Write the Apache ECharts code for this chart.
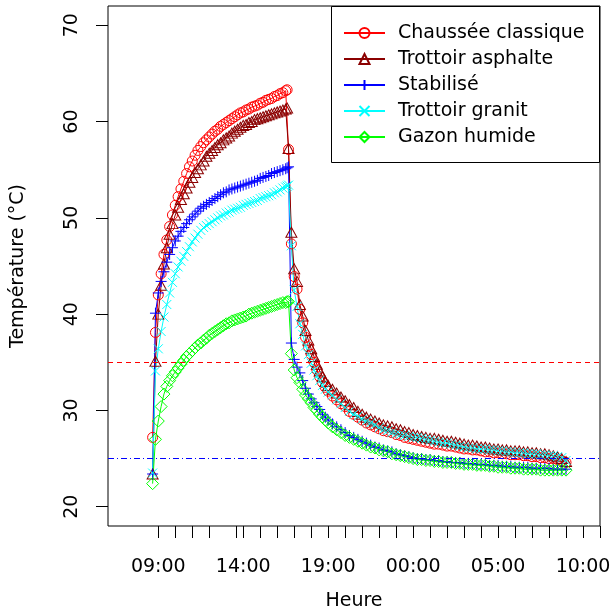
<!DOCTYPE html>
<html>
<head>
<meta charset="utf-8">
<title>Température des revêtements</title>
<script src="https://cdn.jsdelivr.net/npm/echarts@6/dist/echarts.min.js"></script>
<style>
    html, body { margin: 0; padding: 0; background: #fff; }
    #chart { width: 616px; height: 616px; }
</style>
</head>
<body>
<div id="chart"></div>
<script>
// heures de mesure (le jour suivant commence après 23:45)
var heures = [
    "08:40", "08:50",
    "09:00", "09:10", "09:20", "09:30", "09:40", "09:50",
    "10:00", "10:10", "10:20", "10:30", "10:40", "10:50",
    "11:00", "11:10", "11:20", "11:30", "11:40", "11:50",
    "12:00", "12:10", "12:20", "12:30", "12:40", "12:50",
    "13:00", "13:10", "13:20", "13:30", "13:40", "13:50",
    "14:00", "14:10", "14:20", "14:30", "14:40", "14:50",
    "15:00", "15:10", "15:20", "15:30", "15:40", "15:50",
    "16:00", "16:10", "16:20", "16:30", "16:35", "16:40",
    "16:50", "17:00", "17:10", "17:20", "17:30", "17:40", "17:50",
    "18:00", "18:10", "18:20", "18:30", "18:40", "18:50", "19:00",
    "19:15", "19:30", "19:45", "20:00",
    "20:15", "20:30", "20:45", "21:00",
    "21:15", "21:30", "21:45", "22:00",
    "22:15", "22:30", "22:45", "23:00",
    "23:15", "23:30", "23:45", "00:00",
    "00:15", "00:30", "00:45", "01:00",
    "01:15", "01:30", "01:45", "02:00",
    "02:15", "02:30", "02:45", "03:00",
    "03:15", "03:30", "03:45", "04:00",
    "04:15", "04:30", "04:45", "05:00",
    "05:15", "05:30", "05:45", "06:00",
    "06:15", "06:30", "06:45", "07:00",
    "07:15", "07:30", "07:45", "08:00",
    "08:15", "08:30", "08:45", "09:00"
];

var chaussee = [
    27.2, 38.1,
    42.0, 44.2, 46.2, 47.7, 49.1, 50.3,
    51.3, 52.2, 53.0, 53.8, 54.6, 55.3,
    55.9, 56.5, 57.0, 57.4, 57.8, 58.1,
    58.4, 58.7, 59.0, 59.2, 59.5, 59.7,
    59.9, 60.1, 60.3, 60.5, 60.7, 60.9,
    61.0, 61.2, 61.3, 61.5, 61.6, 61.7,
    61.9, 62.0, 62.2, 62.3, 62.4, 62.6,
    62.7, 62.9, 63.0, 63.2, 63.3, 57.1,
    47.3, 43.9, 42.6, 40.5, 39.1, 37.6, 36.6,
    35.8, 35.0, 34.2, 33.5, 32.9, 32.4, 32.0,
    31.5, 31.1, 30.7, 30.4,
    29.9, 29.6, 29.3, 29.0,
    28.7, 28.5, 28.3, 28.1,
    27.9, 27.8, 27.7, 27.5,
    27.4, 27.2, 27.1, 27.0,
    26.9, 26.8, 26.7, 26.6,
    26.5, 26.5, 26.4, 26.3,
    26.3, 26.2, 26.1, 26.0,
    26.0, 25.9, 25.9, 25.8,
    25.7, 25.7, 25.6, 25.6,
    25.5, 25.5, 25.4, 25.4,
    25.4, 25.3, 25.3, 25.2,
    25.2, 25.1, 25.1, 25.0,
    25.0, 24.9, 24.8, 24.6
];

var asphalte = [
    23.4, 35.1,
    40.0, 43.0, 45.2, 46.9, 48.3, 49.4,
    50.3, 51.1, 51.9, 52.5, 53.1, 53.7,
    54.2, 54.7, 55.1, 55.5, 55.9, 56.4,
    56.7, 57.0, 57.3, 57.6, 57.8, 58.1,
    58.3, 58.5, 58.8, 59.0, 59.2, 59.4,
    59.6, 59.7, 59.9, 60.0, 60.2, 60.3,
    60.4, 60.5, 60.6, 60.7, 60.8, 60.9,
    61.0, 61.1, 61.2, 61.3, 61.4, 57.2,
    48.5, 44.7, 43.4, 41.0, 39.8, 38.3, 37.3,
    36.4, 35.6, 34.8, 34.1, 33.5, 33.0, 32.6,
    32.2, 31.8, 31.4, 31.0,
    30.6, 30.3, 29.9, 29.6,
    29.3, 29.1, 28.9, 28.7,
    28.5, 28.4, 28.3, 28.1,
    28.0, 27.8, 27.7, 27.5,
    27.4, 27.3, 27.2, 27.1,
    27.1, 27.0, 26.9, 26.8,
    26.8, 26.7, 26.6, 26.5,
    26.4, 26.4, 26.3, 26.2,
    26.2, 26.1, 26.0, 26.0,
    25.9, 25.9, 25.8, 25.8,
    25.8, 25.7, 25.7, 25.6,
    25.6, 25.5, 25.5, 25.4,
    25.3, 25.2, 25.0, 24.7
];

var stabilise = [
    23.4, 40.1,
    42.2, 43.4, 44.4, 45.4, 46.2, 46.9,
    47.6, 48.1, 48.6, 49.0, 49.4, 49.8,
    50.1, 50.4, 50.7, 51.0, 51.2, 51.4,
    51.6, 51.8, 52.0, 52.2, 52.4, 52.6,
    52.7, 52.9, 53.0, 53.1, 53.2, 53.3,
    53.4, 53.5, 53.6, 53.7, 53.8, 53.9,
    54.1, 54.2, 54.3, 54.4, 54.6, 54.7,
    54.8, 54.9, 55.0, 55.1, 55.2, 55.3,
    37.0, 35.3, 34.5, 33.9, 33.1, 32.3, 31.7,
    31.2, 30.8, 30.4, 30.1, 29.6, 29.3, 29.0,
    28.6, 28.3, 28.0, 27.7,
    27.4, 27.2, 27.0, 26.8,
    26.6, 26.4, 26.2, 26.1,
    25.9, 25.8, 25.7, 25.5,
    25.4, 25.3, 25.2, 25.1,
    25.0, 25.0, 24.9, 24.9,
    24.8, 24.8, 24.7, 24.7,
    24.6, 24.6, 24.6, 24.5,
    24.5, 24.5, 24.4, 24.4,
    24.4, 24.3, 24.3, 24.3,
    24.2, 24.2, 24.2, 24.1,
    24.1, 24.1, 24.1, 24.0,
    24.0, 24.0, 24.0, 24.0,
    23.9, 23.9, 23.9, 23.9
];

var granit = [
    23.5, 34.1,
    36.4, 38.2, 39.7, 41.0, 42.2, 43.3,
    44.2, 44.9, 45.5, 46.0, 46.5, 47.0,
    47.5, 47.9, 48.3, 48.7, 49.0, 49.2,
    49.4, 49.6, 49.8, 50.0, 50.2, 50.3,
    50.5, 50.6, 50.8, 50.9, 51.0, 51.1,
    51.3, 51.4, 51.5, 51.6, 51.7, 51.8,
    52.0, 52.1, 52.2, 52.3, 52.4, 52.6,
    52.7, 52.9, 53.1, 53.2, 53.3, 53.4,
    47.1, 42.5, 40.8, 39.0, 37.9, 36.7, 35.8,
    34.9, 34.2, 33.6, 33.1, 32.6, 32.2, 31.9,
    31.6, 31.1, 30.7, 30.3,
    29.9, 29.6, 29.4, 29.1,
    28.9, 28.7, 28.5, 28.2,
    28.0, 27.9, 27.7, 27.6,
    27.5, 27.4, 27.3, 27.2,
    27.2, 27.1, 27.0, 26.9,
    26.8, 26.7, 26.6, 26.6,
    26.5, 26.4, 26.3, 26.2,
    26.1, 26.1, 26.0, 26.0,
    26.0, 25.9, 25.9, 25.8,
    25.8, 25.7, 25.7, 25.6,
    25.6, 25.6, 25.5, 25.5,
    25.5, 25.4, 25.4, 25.3,
    25.3, 25.2, 25.1, 24.8
];

var gazon = [
    22.4, 27.0,
    28.9, 30.4, 31.7, 32.5, 33.1, 33.6,
    34.0, 34.4, 34.8, 35.2, 35.6, 35.9,
    36.2, 36.5, 36.8, 37.0, 37.3, 37.5,
    37.8, 38.0, 38.2, 38.4, 38.6, 38.8,
    39.0, 39.1, 39.3, 39.4, 39.5, 39.6,
    39.7, 39.8, 40.0, 40.1, 40.2, 40.3,
    40.4, 40.5, 40.6, 40.7, 40.8, 40.9,
    41.0, 41.1, 41.2, 41.2, 41.3, 41.3,
    35.9, 34.2, 33.4, 32.9, 32.2, 31.6, 31.2,
    30.8, 30.3, 30.0, 29.6, 29.3, 29.0, 28.7,
    28.3, 28.0, 27.7, 27.4,
    27.2, 27.0, 26.8, 26.6,
    26.4, 26.2, 26.1, 25.9,
    25.8, 25.7, 25.5, 25.4,
    25.3, 25.2, 25.1, 25.0,
    24.9, 24.9, 24.8, 24.8,
    24.7, 24.7, 24.6, 24.6,
    24.6, 24.5, 24.5, 24.4,
    24.4, 24.4, 24.3, 24.3,
    24.3, 24.2, 24.2, 24.1,
    24.1, 24.1, 24.0, 24.0,
    24.0, 23.9, 23.9, 23.9,
    23.9, 23.8, 23.8, 23.8,
    23.8, 23.8, 23.8, 23.8
];

// axes
var yTicks = [20, 30, 40, 50, 60, 70];
var xTicks = [9, 10, 11, 12, 13.6, 14, 15, 16, 17, 18, 19, 20, 21, 22, 23, 24,
              25, 26, 27, 28, 29, 30, 31, 32, 33, 34, 35];
var xLabelPos = [9, 14, 19, 24, 29, 34];
var xLabels = ["09:00", "14:00", "19:00", "00:00", "05:00", "10:00"];
var seuilHaut = 35;
var seuilBas = 25;

// "hh:mm" -> heures continues
function enHeures(liste) {
    var out = [], prev = -1, jour = 0;
    liste.forEach(function (s) {
        var p = s.split(':');
        var h = Number(p[0]) + Number(p[1]) / 60;
        if (h < prev) jour += 24;
        prev = h;
        out.push(h + jour);
    });
    return out;
}
var x = enHeures(heures);

var police = 'DejaVu Sans';

function serie(nom, valeurs, couleur, symbole, taille) {
    return {
        name: nom,
        type: 'line',
        data: valeurs.map(function (v, i) { return [x[i], v]; }),
        symbol: symbole,
        symbolSize: taille,
        showAllSymbol: true,
        lineStyle: { color: couleur, width: 1 },
        itemStyle: { color: 'rgba(0,0,0,0)', borderColor: couleur, borderWidth: 1 },
        emphasis: { disabled: true }
    };
}

function seuil(valeur, couleur, tirets) {
    return {
        symbol: 'none',
        silent: true,
        label: { show: false },
        emphasis: { disabled: true },
        lineStyle: { color: couleur, width: 1, type: tirets, opacity: 1 },
        data: [{ yAxis: valeur }]
    };
}

var series = [
    serie('Chaussée classique', chaussee, '#FF0000', 'circle', 10),
    serie('Trottoir asphalte', asphalte, '#8B0000', 'triangle', [11, 10]),
    serie('Stabilisé', stabilise, '#0000FF', 'path://M5,0L5,10M0,5L10,5', 11),
    serie('Trottoir granit', granit, '#00FFFF', 'path://M0,0L10,10M10,0L0,10', 9),
    serie('Gazon humide', gazon, '#00FF00', 'diamond', 12)
];
// lignes de seuil
series[0].markLine = seuil(seuilHaut, '#FF0000', [5, 4]);
series[2].markLine = seuil(seuilBas, '#0000FF', [6, 3, 1, 3]);

var chart = echarts.init(document.getElementById('chart'), null, { renderer: 'canvas' });

chart.setOption({
    animation: false,
    backgroundColor: '#fff',
    textStyle: { fontFamily: police, color: '#000' },
    grid: {
        left: 108, right: 16, top: 6, bottom: 88,
        show: true, borderColor: '#000', borderWidth: 1, backgroundColor: 'transparent'
    },
    xAxis: {
        type: 'value',
        min: 6.04,
        max: 35,
        name: 'Heure',
        nameLocation: 'middle',
        nameGap: 66,
        nameTextStyle: { fontFamily: police, fontSize: 19, color: '#000' },
        axisLine: { show: false },
        splitLine: { show: false },
        axisTick: {
            show: true, inside: false, length: 12,
            lineStyle: { color: '#000', width: 1 },
            customValues: xTicks
        },
        axisLabel: {
            margin: 32,
            fontFamily: police, fontSize: 19, color: '#000',
            customValues: xLabelPos,
            formatter: function (v) {
                var i = xLabelPos.indexOf(v);
                return i >= 0 ? xLabels[i] : '';
            }
        }
    },
    yAxis: {
        type: 'value',
        min: 18,
        max: 72,
        name: 'Température (°C)',
        nameLocation: 'middle',
        nameGap: 80,
        nameTextStyle: { fontFamily: police, fontSize: 19, color: '#000' },
        axisLine: { show: false },
        splitLine: { show: false },
        axisTick: {
            show: true, inside: false, length: 12,
            lineStyle: { color: '#000', width: 1 },
            customValues: yTicks
        },
        axisLabel: {
            rotate: 90,
            margin: 26,
            fontFamily: police, fontSize: 19, color: '#000',
            customValues: yTicks
        }
    },
    legend: {
        orient: 'vertical',
        left: 343,
        top: 23,
        padding: 0,
        itemGap: 6,
        itemWidth: 41,
        itemHeight: 12.5,
        selectedMode: false,
        textStyle: { fontFamily: police, fontSize: 19, color: '#000', lineHeight: 20, padding: [0, 0, 0, 8] },
        data: ['Chaussée classique', 'Trottoir asphalte', 'Stabilisé', 'Trottoir granit', 'Gazon humide']
    },
    graphic: [{
        type: 'rect',
        silent: true,
        shape: { x: 331.5, y: 6.5, width: 268, height: 156 },
        style: { fill: 'none', stroke: '#000', lineWidth: 1 }
    }],
    series: series
});
</script>
</body>
</html>
